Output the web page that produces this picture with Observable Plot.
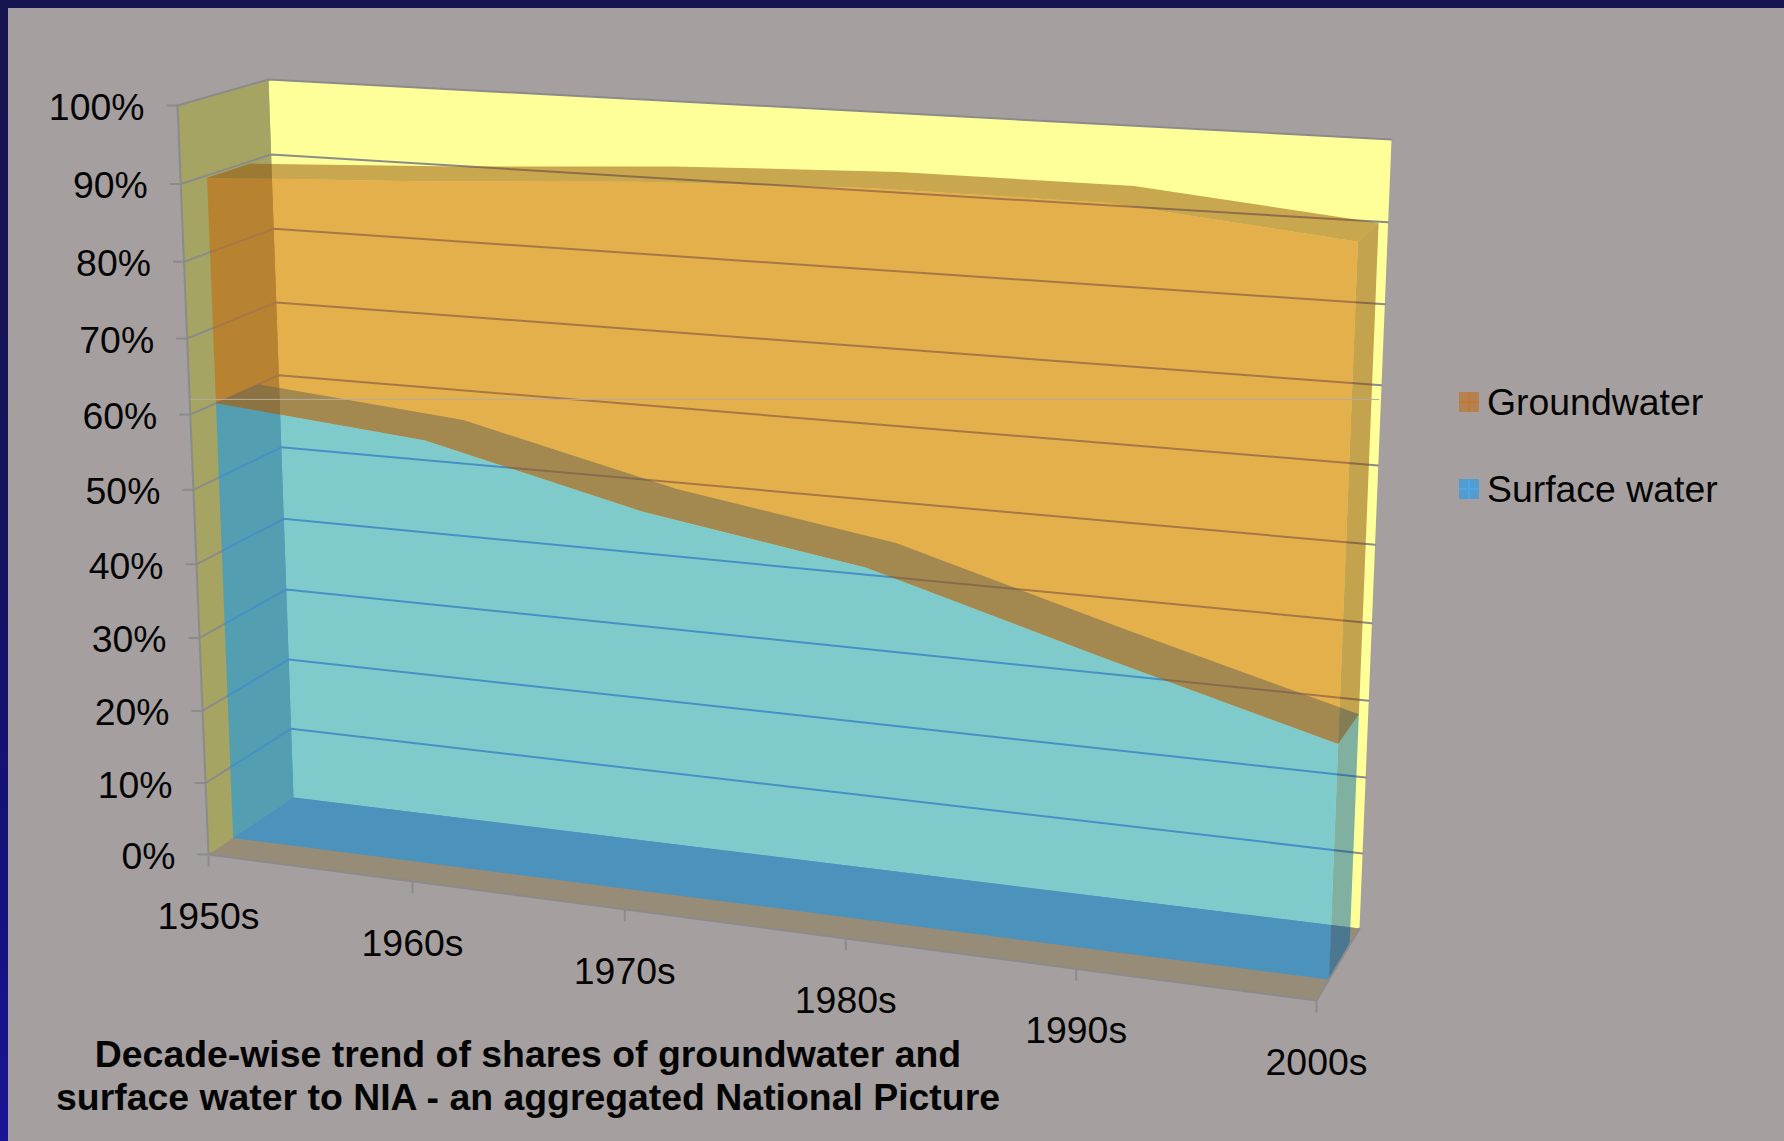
<!DOCTYPE html>
<html>
<head>
<meta charset="utf-8">
<script src="https://cdn.jsdelivr.net/npm/d3@7"></script>
<script src="https://cdn.jsdelivr.net/npm/@observablehq/plot@0.6"></script>
<style>
  html, body { margin: 0; padding: 0; width: 1784px; height: 1141px; overflow: hidden; font-family: "Liberation Sans", Arial, sans-serif; color: #050505; }
  #frame { position: absolute; inset: 0; background: linear-gradient(180deg, #17154f 0%, #15135a 40%, #14117a 75%, #1a1496 100%); }
  #panel { position: absolute; left: 8px; top: 8px; right: 0; bottom: 0; background: #a5a09f; }
  #chart { position: absolute; left: 0; top: 0; }
  #chart svg { background: transparent; display: block; }
  #title { position: absolute; left: 8px; width: 1040px; top: 1033px; text-align: center; font-weight: bold; font-size: 37.4px; line-height: 43px; white-space: nowrap; }
  .key { position: absolute; left: 1459px; display: flex; align-items: center; font-size: 37.4px; height: 40px; white-space: nowrap; }
  .key i { display: block; width: 20px; height: 20px; margin-right: 8px; }
</style>
</head>
<body>
<div id="frame"></div>
<div id="panel"></div>
<div id="chart"></div>
<div id="title">Decade-wise trend of shares of groundwater and<br>surface water to NIA - an aggregated National Picture</div>
<div class="key" style="top:382px"><i style="background:linear-gradient(#c07a38,#c07a38) center/20px 2px no-repeat,linear-gradient(#c07a38,#c07a38) center/2px 20px no-repeat,#b68150"></i>Groundwater</div>
<div class="key" style="top:469px"><i style="background:linear-gradient(#4aa8ea,#4aa8ea) center/20px 2px no-repeat,linear-gradient(#4aa8ea,#4aa8ea) center/2px 20px no-repeat,#539ccf"></i>Surface water</div>
<script>
// Shares of net irrigated area by decade, in percent.
const decades = ["1950s", "1960s", "1970s", "1980s", "1990s", "2000s"];
const surfaceWater = [60, 57.5, 50.8, 46.3, 38, 30.1];
const groundwater = [29.7, 33.5, 41.9, 47.4, 55.7, 60.9];
const shareTicks = [0, 10, 20, 30, 40, 50, 60, 70, 80, 90, 100];

// The 3-D box: screen corners of its front and back planes, listed as
// (first decade, 0%), (last decade, 0%), (last decade, 100%), (first decade, 100%).
const frontPlane = [[208, 854], [1316, 1000], [1348, 174], [177, 105]];
const backPlane = [[293, 797], [1359, 928], [1391, 139], [268, 79]];
// Depth range occupied by the two stacked ribbons, 0 = front plane, 1 = back plane.
const ribbonFront = 0.29;
const ribbonBack = 0.77;

function planeMap([p0, p1, p2, p3]) {
  const dx1 = p1[0] - p2[0], dx2 = p3[0] - p2[0], sx = p0[0] - p1[0] + p2[0] - p3[0];
  const dy1 = p1[1] - p2[1], dy2 = p3[1] - p2[1], sy = p0[1] - p1[1] + p2[1] - p3[1];
  const det = dx1 * dy2 - dx2 * dy1;
  const g = (sx * dy2 - dx2 * sy) / det, h = (dx1 * sy - sx * dy1) / det;
  const a = p1[0] - p0[0] + g * p1[0], b = p3[0] - p0[0] + h * p3[0];
  const d = p1[1] - p0[1] + g * p1[1], e = p3[1] - p0[1] + h * p3[1];
  return (u, v) => {
    const w = g * u + h * v + 1;
    return [(a * u + b * v + p0[0]) / w, (d * u + e * v + p0[1]) / w];
  };
}
const front = planeMap(frontPlane), back = planeMap(backPlane);
const lastDecade = decades.length - 1;

// Projects (decade index, share in %, depth) onto the drawing plane.
function project(i, share, depth) {
  const [fx, fy] = front(i / lastDecade, share / 100);
  const [bx, by] = back(i / lastDecade, share / 100);
  return {x: fx + (bx - fx) * depth, y: fy + (by - fy) * depth};
}

const indices = decades.map((_, i) => i);
const stackTop = indices.map(i => surfaceWater[i] + groundwater[i]);
const zeros = indices.map(() => 0);

const polygon = (points, fill, fillOpacity = 0.5) =>
  Plot.line(points, {x: "x", y: "y", fill, fillOpacity, stroke: "none", curve: "linear-closed"});

// One stacked ribbon: the upper surface and right end sit behind the front face.
function ribbon(lower, upper, faceColor, topColor, capColor) {
  const last = lastDecade;
  const frontFace = [
    ...indices.map(i => project(i, upper[i], ribbonFront)),
    ...indices.slice().reverse().map(i => project(i, lower[i], ribbonFront))
  ];
  const topFace = [
    ...indices.map(i => project(i, upper[i], ribbonFront)),
    ...indices.slice().reverse().map(i => project(i, upper[i], ribbonBack))
  ];
  const capFace = [
    project(last, lower[last], ribbonFront), project(last, upper[last], ribbonFront),
    project(last, upper[last], ribbonBack), project(last, lower[last], ribbonBack)
  ];
  return [polygon(capFace, capColor), polygon(topFace, topColor), polygon(frontFace, faceColor)];
}

// Walls and floor of the box.
const backWall = [project(0, 0, 1), project(lastDecade, 0, 1), project(lastDecade, 100, 1), project(0, 100, 1)];
const leftWall = [project(0, 0, 0), project(0, 0, 1), project(0, 100, 1), project(0, 100, 0)];
const floor = [project(0, 0, 0), project(lastDecade, 0, 0), project(lastDecade, 0, 1), project(0, 0, 1)];

// Gridlines run along the left wall, then across the back wall.
const gridLines = shareTicks.filter(s => s > 0).flatMap(s => [
  {...project(0, s, 0), share: s},
  {...project(0, s, 1), share: s},
  {...project(lastDecade, s, 1), share: s}
]);

const axisColor = "#8b8b8b";
const shareAxis = shareTicks.map(s => ({...project(0, s, 0), label: s + "%"}));
const decadeAxis = decades.map((label, i) => ({...project(i, 0, 0), label}));

// Faint horizontal seam across the plot at the 62% level of the front axis.
const seamStart = project(0, 62, 0);
const seam = [seamStart, {x: project(lastDecade, 62, 1).x, y: seamStart.y}];

const chart = Plot.plot({
  width: 1784,
  height: 1141,
  margin: 0,
  x: {domain: [0, 1784], range: [0, 1784], axis: null},
  y: {domain: [0, 1141], range: [0, 1141], axis: null},
  marks: [
    polygon(backWall, "#ffff99", 1),
    polygon(leftWall, "#a6a463", 1),
    polygon(floor, "#978c78", 1),
    Plot.line(gridLines, {x: "x", y: "y", z: "share", stroke: axisColor, strokeWidth: 2, curve: "linear"}),
    ...ribbon(zeros, surfaceWater, "#0097ff", "#0061a7", "#0061a7"),
    ...ribbon(surfaceWater, stackTop, "#c76100", "#934f05", "#894705"),
    Plot.line(seam, {x: "x", y: "y", stroke: "#b4ac9c", strokeWidth: 1}),
    Plot.line([project(0, 0, 0), project(0, 100, 0)], {x: "x", y: "y", stroke: axisColor, strokeWidth: 2}),
    Plot.line([project(0, 0, 0), project(lastDecade, 0, 0), project(lastDecade, 0, 1)], {x: "x", y: "y", stroke: axisColor, strokeWidth: 2}),
    Plot.link(shareAxis, {x1: d => d.x - 11, x2: "x", y1: "y", y2: "y", stroke: axisColor, strokeWidth: 2}),
    Plot.link(decadeAxis, {x1: "x", x2: "x", y1: "y", y2: d => d.y + 12, stroke: axisColor, strokeWidth: 2}),
    Plot.text(shareAxis, {x: "x", y: "y", text: "label", textAnchor: "end", dx: -33, dy: 2.5, fontSize: 37.4, fontFamily: "Liberation Sans", fill: "#050505"}),
    Plot.text(decadeAxis, {x: "x", y: "y", text: "label", dy: 62.5, fontSize: 37.4, fontFamily: "Liberation Sans", fill: "#050505"})
  ]
});
document.getElementById("chart").append(chart);
</script>
</body>
</html>
